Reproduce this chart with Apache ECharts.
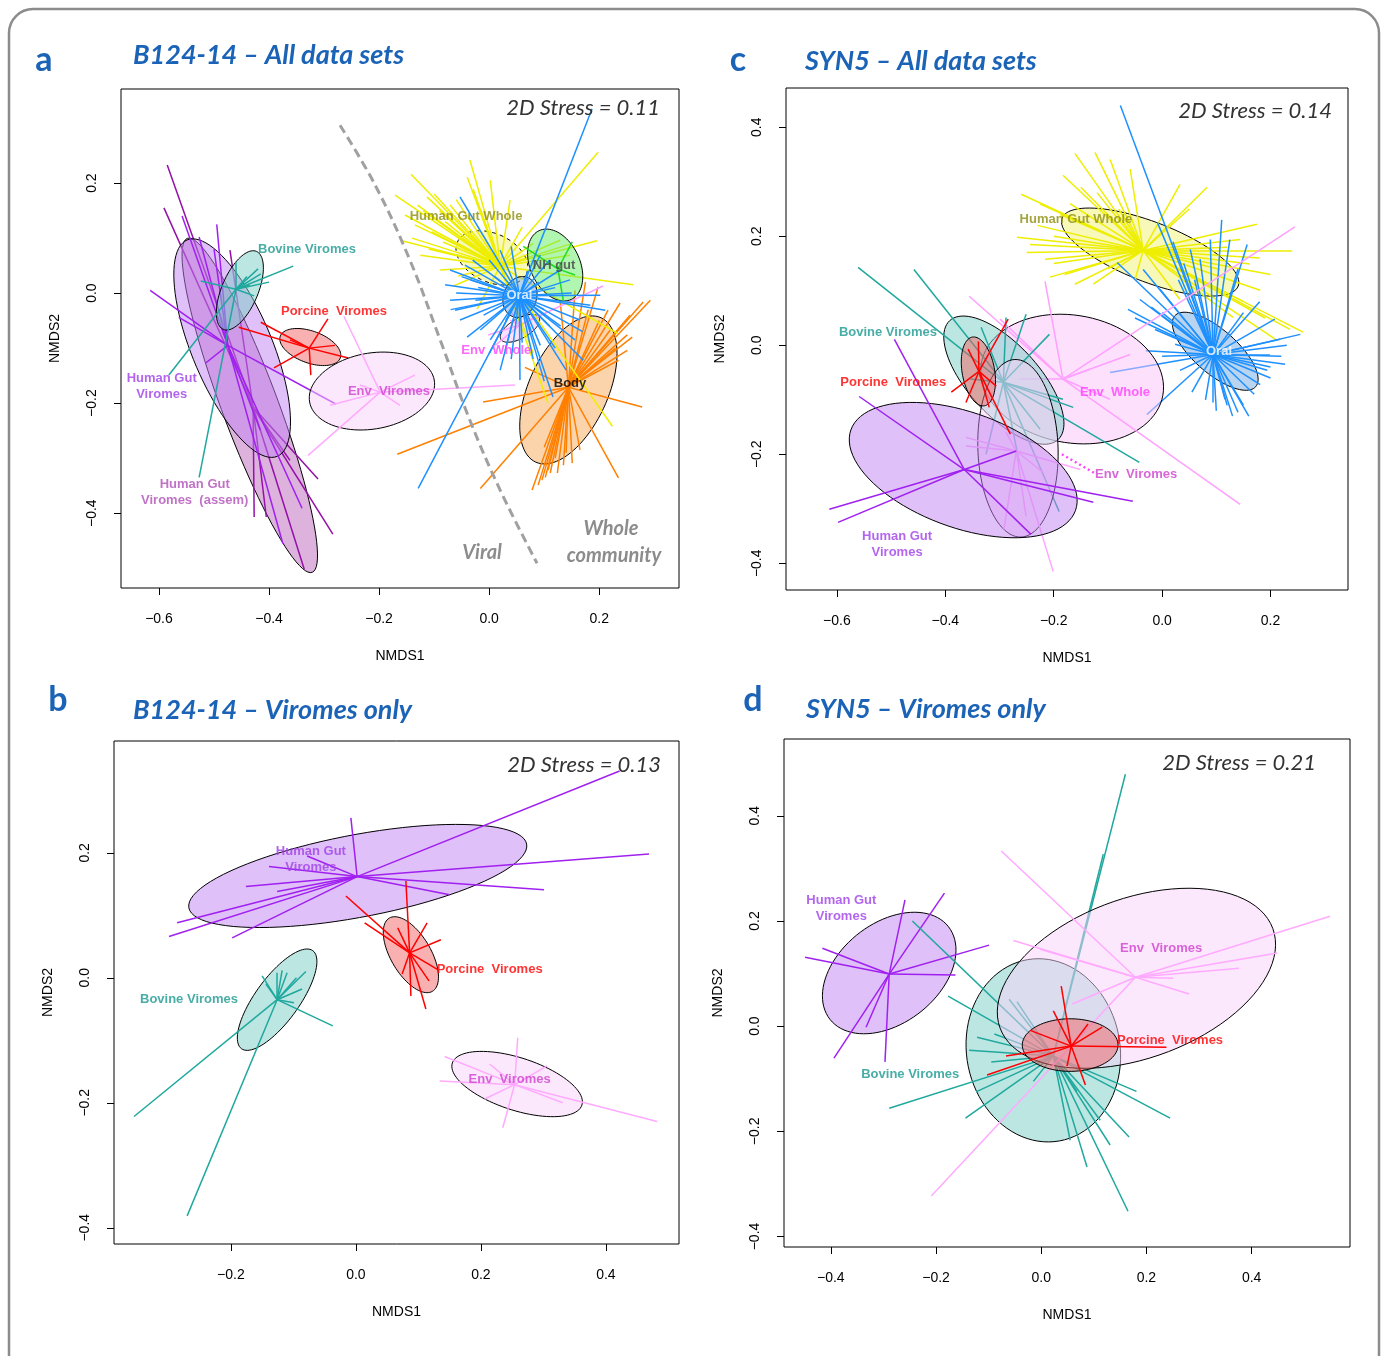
<!DOCTYPE html>
<html>
<head>
<meta charset="utf-8">
<title>NMDS ordinations</title>
<script src="https://cdn.jsdelivr.net/npm/echarts@6/dist/echarts.min.js"></script>
<style>
  html, body { margin: 0; padding: 0; background: #fff; }
  #chart { width: 1385px; height: 1356px; }
</style>
</head>
<body>
<div id="chart"></div>
<script>
// ---------- panel a : B124-14, all data sets ----------
const aTicksX = [-0.6, -0.4, -0.2, 0, 0.2]
const aTicksY = [-0.4, -0.2, 0, 0.2]
const aRangeX = [-0.669, 0.345]
const aRangeY = [-0.536, 0.371]

const aHgvCentre = [-0.475, -0.095]
const aHgvEnds = [[-0.616, 0.005], [-0.558, 0.140], [-0.495, 0.125], [-0.500, 0.080], [-0.527, 0.102], [-0.564, -0.044], [-0.515, -0.127], [-0.278, -0.202], [-0.340, -0.391], [-0.375, -0.455], [-0.416, -0.249]]
const aHgvEllipse = [-0.467, -0.100, 0.213, 0.073, -67.4]

const aAssemCentre = [-0.429, -0.207]
const aAssemEnds = [[-0.585, 0.233], [-0.591, 0.155], [-0.311, -0.338], [-0.284, -0.438], [-0.427, -0.407], [-0.405, -0.407], [-0.336, -0.502], [-0.471, 0.078], [-0.362, -0.304]]
const aAssemEllipse = [-0.435, -0.204, 0.324, 0.051, -69.5]

const aBovineCentre = [-0.460, 0.007]
const aBovineEnds = [[-0.356, 0.049], [-0.400, 0.020], [-0.420, 0.044], [-0.460, 0.056], [-0.524, 0.022], [-0.427, -0.005], [-0.415, 0.035], [-0.582, -0.149], [-0.527, -0.335], [-0.440, 0.030], [-0.435, 0.015]]
const aBovineEllipse = [-0.453, 0.005, 0.077, 0.033, 67]

const aPorcineCentre = [-0.327, -0.100]
const aPorcineEnds = [[-0.455, -0.062], [-0.415, -0.053], [-0.293, -0.047], [-0.256, -0.118], [-0.391, -0.136], [-0.324, -0.149], [-0.280, -0.095], [-0.362, -0.085]]
const aPorcineEllipse = [-0.325, -0.098, 0.058, 0.029, -20]

const aEnvVirCentre = [-0.198, -0.180]
const aEnvVirEnds = [[-0.264, -0.042], [-0.329, -0.295], [0.047, -0.167], [-0.289, -0.204], [-0.235, -0.167], [-0.135, -0.149], [-0.162, -0.204]]
const aEnvVirEllipse = [-0.213, -0.178, 0.115, 0.069, 10]

const aHgwCentre = [0.020, 0.049]
const aHgwEnds = [[-0.142, 0.216], [-0.171, 0.178], [-0.040, 0.211], [-0.113, 0.175], [-0.029, 0.189], [-0.016, 0.153], [-0.104, 0.111], [-0.084, 0.093], [-0.056, 0.031], [-0.065, 0.013], [-0.022, -0.029], [0.198, 0.256], [0.196, 0.095], [0.262, 0.015], [0.233, -0.073], [0.224, -0.242], [0.107, -0.200], [0.080, -0.109], [-0.153, 0.142], [-0.125, 0.069], [-0.089, 0.042], [-0.035, 0.242], [0.038, 0.169], [0.129, 0.096], [0.147, 0.069], [0.056, -0.031], [-0.162, 0.096], [-0.135, 0.124], [-0.071, 0.160], [0.002, 0.205], [-0.120, 0.150], [-0.100, 0.180], [-0.080, 0.130], [-0.060, 0.170], [-0.140, 0.100], [-0.110, 0.080], [-0.050, 0.100], [-0.020, 0.120], [0.060, 0.120], [0.080, 0.090], [0.150, 0.090], [-0.130, 0.160], [-0.090, 0.150]]
const aHgwEllipse = [0.005, 0.064, 0.069, 0.044, -25]

const aNhCentre = [0.125, 0.044]
const aNhEnds = [[0.062, 0.085], [0.151, 0.093], [0.135, -0.015], [0.107, 0.056], [0.156, 0.033]]
const aNhEllipse = [0.120, 0.051, 0.069, 0.045, -65]

const aOralCentre = [0.055, -0.005]
const aOralEnds = [[0.187, 0.335], [-0.129, -0.355], [-0.053, 0.175], [-0.071, 0.042], [-0.080, 0.015], [-0.071, -0.013], [-0.062, -0.031], [-0.053, -0.049], [0.211, -0.031], [0.165, -0.049], [0.156, -0.085], [0.093, -0.095], [0.171, -0.122], [0.116, -0.189], [0.056, -0.158], [-0.016, -0.067], [0.020, 0.078], [0.093, 0.069], [0.129, 0.042], [0.147, 0.024], [0.202, -0.004], [0.184, -0.022], [-0.035, 0.024], [-0.044, 0.051], [0.002, -0.085], [0.075, -0.067], [0.029, -0.104], [-0.025, -0.013], [0.010, 0.030], [0.090, 0.020], [0.100, -0.030], [0.030, -0.050], [-0.020, 0.010], [0.070, 0.040], [-0.060, 0.000], [-0.050, 0.030], [-0.030, 0.060], [0.000, 0.060], [0.040, 0.085], [0.110, 0.060], [0.150, 0.000], [0.130, -0.060], [0.080, -0.120], [0.040, -0.120], [0.000, -0.110], [-0.040, -0.080], [0.120, -0.100], [0.060, -0.090], [-0.070, -0.030], [0.170, -0.070], [0.140, -0.140], [0.100, -0.160], [0.020, -0.140], [-0.010, -0.040], [0.120, 0.010], [0.110, -0.060]]
const aOralEllipse = [0.056, -0.007, 0.038, 0.030, 70]

const aEnvWholeCentre = [0.056, -0.058]
const aEnvWholeEnds = [[-0.002, -0.076], [0.038, -0.031], [0.207, 0.013], [0.011, -0.095], [0.038, -0.049], [0.090, -0.040]]
const aEnvWholeEllipse = [0.056, -0.064, 0.040, 0.018, 30]

const aBodyCentre = [0.144, -0.171]
const aBodyEnds = [[0.238, -0.018], [0.280, -0.016], [0.251, -0.076], [0.251, -0.104], [0.235, -0.122], [0.198, 0.011], [0.293, -0.013], [0.175, 0.020], [0.096, -0.340], [0.102, -0.335], [0.111, -0.327], [0.124, -0.327], [0.135, -0.313], [0.151, -0.309], [0.078, -0.358], [-0.016, -0.355], [0.235, -0.336], [0.278, -0.207], [-0.167, -0.293], [-0.011, -0.198], [0.065, -0.135], [0.129, -0.013], [0.156, 0.005], [0.216, -0.031], [0.107, -0.322], [0.089, -0.349], [0.165, -0.285], [0.220, -0.067], [0.256, -0.040], [0.180, -0.030], [0.200, -0.050], [0.120, -0.300], [0.140, -0.290], [0.100, -0.280], [0.230, -0.100], [0.260, -0.080]]
const aBodyEllipse = [0.144, -0.176, 0.144, 0.072, 65.7]

// viral / whole community divide
const aDivider = [[-0.271, 0.305], [-0.207, 0.196], [-0.144, 0.060], [-0.089, -0.085], [-0.035, -0.231], [0.020, -0.358], [0.087, -0.491]]

const aLabels = [
  ['Human Gut Whole', -0.042, 0.140, 'hgw'],
  ['Bovine Viromes', -0.331, 0.080, 'bovine'],
  ['Porcine  Viromes', -0.282, -0.033, 'porcine'],
  ['Human Gut\nViromes', -0.595, -0.169, 'hgv'],
  ['Env  Viromes', -0.182, -0.178, 'envVir'],
  ['Human Gut\nViromes  (assem)', -0.535, -0.362, 'assem'],
  ['NH gut', 0.118, 0.051, 'nh'],
  ['Oral', 0.055, -0.005, 'oral'],
  ['Env  Whole', 0.013, -0.105, 'envWhole'],
  ['Body', 0.147, -0.164, 'body']
]

// ---------- panel b : B124-14, viromes only ----------
const bTicksX = [-0.2, 0, 0.2, 0.4]
const bTicksY = [-0.4, -0.2, 0, 0.2]
const bRangeX = [-0.387, 0.517]
const bRangeY = [-0.426, 0.379]

const bHgvCentre = [0.002, 0.162]
const bHgvEnds = [[-0.008, 0.256], [-0.139, 0.178], [-0.176, 0.146], [-0.126, 0.138], [-0.286, 0.088], [-0.299, 0.066], [-0.198, 0.064], [-0.078, 0.195], [0.422, 0.331], [0.469, 0.198], [0.301, 0.141], [0.150, 0.133]]
const bHgvEllipse = [0.003, 0.163, 0.275, 0.066, 10.7]

const bPorcineCentre = [0.086, 0.040]
const bPorcineEnds = [[0.080, 0.155], [0.114, 0.088], [0.136, 0.061], [0.131, 0.013], [0.117, -0.005], [0.112, -0.050], [0.088, -0.029], [0.074, 0.006], [0.067, 0.080], [-0.016, 0.131], [0.014, 0.088]]
const bPorcineEllipse = [0.088, 0.037, 0.068, 0.032, -59.5]

const bBovineCentre = [-0.126, -0.035]
const bBovineEnds = [[-0.355, -0.222], [-0.270, -0.381], [-0.037, -0.077], [-0.080, 0.010], [-0.150, 0.003], [-0.126, 0.008], [-0.110, 0.008], [-0.086, -0.018], [-0.099, -0.040], [-0.144, -0.010], [-0.095, 0.000], [-0.118, 0.012]]
const bBovineEllipse = [-0.126, -0.035, 0.097, 0.035, 54]

const bEnvVirCentre = [0.254, -0.171]
const bEnvVirEnds = [[0.259, -0.096], [0.142, -0.126], [0.134, -0.165], [0.235, -0.240], [0.331, -0.200], [0.482, -0.230], [0.306, -0.141], [0.214, -0.138], [0.206, -0.194]]
const bEnvVirEllipse = [0.258, -0.170, 0.109, 0.042, -18]

const bLabels = [
  ['Human Gut\nViromes', -0.072, 0.189, 'hgv'],
  ['Porcine  Viromes', 0.214, 0.014, 'porcine'],
  ['Bovine Viromes', -0.267, -0.034, 'bovine'],
  ['Env  Viromes', 0.246, -0.163, 'envVir']
]

// ---------- panel c : SYN5, all data sets ----------
const cTicksX = [-0.6, -0.4, -0.2, 0, 0.2]
const cTicksY = [-0.4, -0.2, 0, 0.2, 0.4]
const cRangeX = [-0.694, 0.343]
const cRangeY = [-0.449, 0.472]

const cHgwCentre = [-0.035, 0.174]
const cHgwEnds = [[-0.260, 0.277], [-0.268, 0.198], [-0.207, 0.125], [-0.161, 0.112], [-0.127, 0.112], [-0.183, 0.312], [-0.161, 0.352], [-0.124, 0.354], [0.083, 0.290], [0.175, 0.222], [0.240, 0.174], [0.181, 0.101], [0.260, 0.024], [0.212, 0.009], [0.131, 0.051], [-0.225, 0.259], [-0.188, 0.240], [-0.244, 0.185], [-0.216, 0.158], [-0.096, 0.341], [-0.059, 0.323], [0.033, 0.295], [0.144, 0.194], [0.162, 0.149], [0.107, 0.139], [0.033, 0.084], [0.236, 0.029], [-0.230, 0.220], [-0.250, 0.170], [-0.200, 0.200], [-0.170, 0.260], [-0.150, 0.290], [-0.120, 0.280], [-0.080, 0.250], [-0.200, 0.150], [-0.180, 0.130], [0.050, 0.250], [0.120, 0.180], [0.180, 0.160], [0.200, 0.130], [0.190, 0.050], [0.150, 0.080], [-0.100, 0.140], [-0.050, 0.120]]
const cHgwEllipse = [-0.022, 0.171, 0.174, 0.055, -21]

const cOralCentre = [0.094, -0.017]
const cOralEnds = [[-0.077, 0.440], [-0.035, 0.139], [-0.083, 0.152], [-0.009, 0.226], [0.052, 0.176], [-0.063, 0.066], [-0.096, -0.050], [0.125, 0.194], [0.157, 0.185], [0.255, 0.020], [0.194, -0.046], [0.140, -0.123], [0.094, -0.105], [0.055, -0.086], [0.033, -0.046], [-0.028, -0.127], [0.218, 0.011], [-0.041, 0.084], [-0.004, 0.103], [0.070, 0.158], [0.199, -0.017], [0.181, -0.072], [0.116, -0.099], [0.024, 0.002], [-0.013, 0.029], [0.089, 0.194], [0.208, 0.048], [0.227, -0.035], [0.120, -0.110], [0.130, -0.130], [0.150, -0.110], [0.170, -0.090], [0.200, -0.060], [0.220, -0.020], [0.230, 0.000], [0.100, -0.120], [0.080, -0.100], [0.160, -0.130], [0.060, 0.120], [0.030, 0.120], [0.000, 0.060], [-0.020, 0.070], [-0.050, 0.050], [0.040, 0.150], [0.020, 0.190], [0.110, 0.230], [0.140, 0.140], [0.180, 0.080], [0.000, -0.020], [-0.030, -0.010], [0.200, -0.040], [0.150, 0.060]]
const cOralEllipse = [0.098, -0.011, 0.099, 0.040, -41]

const cEnvWholeCentre = [-0.183, -0.062]
const cEnvWholeEnds = [[-0.356, 0.090], [-0.216, 0.117], [0.245, 0.217], [0.144, -0.292], [-0.059, -0.017], [-0.262, -0.062], [-0.133, -0.044], [-0.096, -0.099], [-0.299, 0.048]]
const cEnvWholeEllipse = [-0.166, -0.062, 0.170, 0.117, -10]

const cBovineCentre = [-0.293, -0.068]
const cBovineEnds = [[-0.561, 0.143], [-0.458, 0.139], [-0.251, 0.057], [-0.288, 0.051], [-0.042, -0.215], [-0.190, -0.305], [-0.164, -0.114], [-0.325, -0.200], [-0.208, 0.020], [-0.334, 0.033], [-0.264, -0.213], [-0.183, -0.099], [-0.354, -0.062], [-0.225, -0.154]]
const cBovineEllipse = [-0.292, -0.064, 0.148, 0.065, -47.5]

const cPorcineCentre = [-0.338, -0.048]
const cPorcineEnds = [[-0.284, 0.048], [-0.389, -0.086], [-0.280, -0.163], [-0.362, -0.105], [-0.319, -0.114], [-0.339, 0.007], [-0.358, -0.007], [-0.306, -0.075]]
const cPorcineEllipse = [-0.339, -0.048, 0.064, 0.030, 100]

const cEnvVirCentre = [-0.269, -0.194]
const cEnvVirEnds = [[-0.201, -0.415], [-0.362, -0.169], [-0.362, -0.185], [-0.292, -0.338], [-0.220, -0.233], [-0.251, -0.314], [-0.288, -0.160], [-0.151, -0.228]]
const cEnvVirEllipse = [-0.266, -0.189, 0.163, 0.074, 92]

const cHgvCentre = [-0.365, -0.228]
const cHgvEnds = [[-0.614, -0.301], [-0.598, -0.325], [-0.494, 0.011], [-0.559, -0.094], [-0.242, -0.347], [-0.054, -0.286], [-0.127, -0.288], [-0.269, -0.194]]
const cHgvEllipse = [-0.367, -0.229, 0.220, 0.106, -19.6]

const cEnvVirLeader = [[-0.185, -0.200], [-0.124, -0.235]]

const cLabels = [
  ['Human Gut Whole', -0.159, 0.231, 'hgw'],
  ['Oral', 0.105, -0.011, 'oral'],
  ['Bovine Viromes', -0.506, 0.024, 'bovine'],
  ['Porcine  Viromes', -0.496, -0.068, 'porcine'],
  ['Env  Whole', -0.087, -0.086, 'envWhole'],
  ['Env  Viromes', -0.048, -0.237, 'envVir'],
  ['Human Gut\nViromes', -0.489, -0.365, 'hgv']
]

// ---------- panel d : SYN5, viromes only ----------
const dTicksX = [-0.4, -0.2, 0, 0.2, 0.4]
const dTicksY = [-0.4, -0.2, 0, 0.2, 0.4]
const dRangeX = [-0.489, 0.587]
const dRangeY = [-0.420, 0.546]

const dHgvCentre = [-0.289, 0.099]
const dHgvEnds = [[-0.259, 0.240], [-0.184, 0.253], [-0.099, 0.154], [-0.163, 0.097], [-0.449, 0.131], [-0.416, 0.148], [-0.394, -0.061], [-0.333, -0.002], [-0.297, -0.068]]
const dHgvEllipse = [-0.289, 0.101, 0.143, 0.095, 38]

const dBovineCentre = [0.023, -0.057]
const dBovineEnds = [[0.160, 0.479], [0.118, 0.327], [-0.245, 0.200], [-0.177, 0.057], [-0.289, -0.156], [-0.144, -0.175], [-0.124, -0.125], [-0.122, -0.021], [-0.137, -0.046], [-0.089, -0.015], [-0.095, -0.068], [-0.061, 0.051], [-0.046, 0.046], [-0.015, -0.105], [0.087, -0.268], [0.165, -0.352], [0.131, -0.226], [0.167, -0.211], [0.245, -0.175], [0.181, -0.124], [0.068, -0.124], [0.055, -0.217], [0.112, -0.179]]
const dBovineEllipse = [0.004, -0.046, 0.175, 0.146, -80]

const dEnvVirCentre = [0.179, 0.093]
const dEnvVirEnds = [[-0.076, 0.333], [-0.053, 0.163], [-0.209, -0.323], [0.549, 0.209], [0.449, 0.139], [0.376, 0.110], [0.281, 0.061], [0.059, 0.042], [0.251, 0.091], [-0.002, 0.146]]
const dEnvVirEllipse = [0.181, 0.091, 0.276, 0.152, 20]

const dPorcineCentre = [0.057, -0.038]
const dPorcineEnds = [[0.038, 0.076], [0.023, 0.029], [0.116, -0.002], [0.089, 0.004], [0.238, -0.040], [0.084, -0.112], [0.049, -0.076], [-0.103, -0.093], [-0.067, -0.057], [-0.021, -0.008]]
const dPorcineEllipse = [0.055, -0.036, 0.091, 0.050, 0]

const dLabels = [
  ['Human Gut\nViromes', -0.380, 0.224, 'hgv'],
  ['Bovine Viromes', -0.249, -0.091, 'bovine'],
  ['Env  Viromes', 0.228, 0.148, 'envVir'],
  ['Porcine  Viromes', 0.245, -0.027, 'porcine']
]

// ---------- styling ----------
const COLORS = {
  hgv: { line: '#a020f0', fill: 'rgba(193,129,241,0.5)', text: '#a040e8' },
  assem: { line: '#9410a8', fill: 'rgba(187,103,187,0.5)', text: '#b050b8' },
  bovine: { line: '#20a89e', fill: 'rgba(121,205,197,0.5)', text: '#1a9990' },
  porcine: { line: '#ff0000', fill: 'rgba(241,97,97,0.5)', text: '#ff0000' },
  envVir: { line: '#ffaaff', fill: 'rgba(249,209,249,0.5)', text: '#d040d0' },
  envWhole: { line: '#ffa0ff', fill: 'rgba(249,193,249,0.5)', text: '#ff40ff' },
  hgw: { line: '#eeee00', fill: 'rgba(241,241,113,0.5)', text: '#8f8f10' },
  nh: { line: '#22dd22', fill: 'rgba(97,235,97,0.5)', text: '#444444' },
  oral: { line: '#1e90ff', fill: 'rgba(113,169,225,0.5)', text: '#ffffff' },
  body: { line: '#ff8000', fill: 'rgba(249,169,89,0.5)', text: '#000000' }
}

// draw order inside every panel: [key, centre, ends, ellipse, dashed outline]
const panelGroups = [
  [ // a
    ['assem', aAssemCentre, aAssemEnds, aAssemEllipse],
    ['hgv', aHgvCentre, aHgvEnds, aHgvEllipse],
    ['bovine', aBovineCentre, aBovineEnds, aBovineEllipse],
    ['porcine', aPorcineCentre, aPorcineEnds, aPorcineEllipse],
    ['envVir', aEnvVirCentre, aEnvVirEnds, aEnvVirEllipse],
    ['body', aBodyCentre, aBodyEnds, aBodyEllipse],
    ['envWhole', aEnvWholeCentre, aEnvWholeEnds, aEnvWholeEllipse],
    ['hgw', aHgwCentre, aHgwEnds, aHgwEllipse, true],
    ['nh', aNhCentre, aNhEnds, aNhEllipse],
    ['oral', aOralCentre, aOralEnds, aOralEllipse]
  ],
  [ // b
    ['hgv', bHgvCentre, bHgvEnds, bHgvEllipse],
    ['porcine', bPorcineCentre, bPorcineEnds, bPorcineEllipse],
    ['bovine', bBovineCentre, bBovineEnds, bBovineEllipse],
    ['envVir', bEnvVirCentre, bEnvVirEnds, bEnvVirEllipse]
  ],
  [ // c
    ['hgw', cHgwCentre, cHgwEnds, cHgwEllipse],
    ['oral', cOralCentre, cOralEnds, cOralEllipse],
    ['envWhole', cEnvWholeCentre, cEnvWholeEnds, cEnvWholeEllipse],
    ['bovine', cBovineCentre, cBovineEnds, cBovineEllipse],
    ['envVir', cEnvVirCentre, cEnvVirEnds, cEnvVirEllipse],
    ['hgv', cHgvCentre, cHgvEnds, cHgvEllipse],
    ['porcine', cPorcineCentre, cPorcineEnds, cPorcineEllipse]
  ],
  [ // d
    ['hgv', dHgvCentre, dHgvEnds, dHgvEllipse],
    ['bovine', dBovineCentre, dBovineEnds, dBovineEllipse],
    ['envVir', dEnvVirCentre, dEnvVirEnds, dEnvVirEllipse],
    ['porcine', dPorcineCentre, dPorcineEnds, dPorcineEllipse]
  ]
]
const panelLabels = [aLabels, bLabels, cLabels, dLabels]
const panelRanges = [[aRangeX, aRangeY], [bRangeX, bRangeY], [cRangeX, cRangeY], [dRangeX, dRangeY]]
const panelTicks = [[aTicksX, aTicksY], [bTicksX, bTicksY], [cTicksX, cTicksY], [dTicksX, dTicksY]]

const grids = [
  { left: 121, top: 89, width: 558, height: 499 },
  { left: 114, top: 741, width: 565, height: 503 },
  { left: 786, top: 88, width: 562, height: 502 },
  { left: 784, top: 739, width: 566, height: 508 }
]

const tickFormat = v => v.toFixed(1).replace('-', '\u2212')
const axisFont = { fontFamily: 'Liberation Sans', fontSize: 14, color: '#000' }

function xAxisFor(i) {
  const ticks = panelTicks[i][0]
  return {
    gridIndex: i, type: 'value', min: panelRanges[i][0][0], max: panelRanges[i][0][1],
    name: 'NMDS1', nameLocation: 'middle', nameGap: 61, nameTextStyle: axisFont,
    axisLine: { show: false, onZero: false },
    axisTick: { show: true, length: 7, customValues: ticks, lineStyle: { color: '#000' } },
    axisLabel: { customValues: ticks, margin: 24, formatter: tickFormat, ...axisFont },
    splitLine: { show: false }
  }
}

function yAxisFor(i) {
  const ticks = panelTicks[i][1]
  return {
    gridIndex: i, type: 'value', min: panelRanges[i][1][0], max: panelRanges[i][1][1],
    name: 'NMDS2', nameLocation: 'middle', nameGap: 59, nameTextStyle: axisFont,
    axisLine: { show: false, onZero: false },
    axisTick: { show: true, length: 7, customValues: ticks, lineStyle: { color: '#000' } },
    axisLabel: { customValues: ticks, margin: 22, rotate: 90, formatter: tickFormat, ...axisFont },
    splitLine: { show: false }
  }
}

// ellipse outline drawn in data space, mapped through the axes
function ellipseSeries(i, ell, fill, dashed, z) {
  return {
    type: 'custom', xAxisIndex: i, yAxisIndex: i, silent: true, z: z,
    data: [ell],
    renderItem(params, api) {
      const cx = api.value(0), cy = api.value(1), a = api.value(2), b = api.value(3)
      const t = api.value(4) * Math.PI / 180
      const pts = []
      for (let k = 0; k < 90; k++) {
        const u = k / 90 * 2 * Math.PI
        const x = cx + a * Math.cos(u) * Math.cos(t) - b * Math.sin(u) * Math.sin(t)
        const y = cy + a * Math.cos(u) * Math.sin(t) + b * Math.sin(u) * Math.cos(t)
        pts.push(api.coord([x, y]))
      }
      return {
        type: 'polygon', shape: { points: pts },
        style: { fill: fill, stroke: '#000', lineWidth: 1, lineDash: dashed ? [4, 4] : null }
      }
    }
  }
}

function spiderSeries(i, centre, ends, color, z) {
  return {
    type: 'lines', coordinateSystem: 'cartesian2d', xAxisIndex: i, yAxisIndex: i,
    silent: true, z: z,
    data: ends.map(p => ({ coords: [centre, p] })),
    lineStyle: { color: color, width: 1.5, opacity: 1, curveness: 0 }
  }
}

function labelSeries(i, labels) {
  return {
    type: 'scatter', xAxisIndex: i, yAxisIndex: i, silent: true, z: 200,
    symbolSize: 1, itemStyle: { color: 'rgba(0,0,0,0)' },
    label: {
      show: true, position: 'inside', fontFamily: 'Liberation Sans',
      fontWeight: 'bold', fontSize: 13, lineHeight: 16
    },
    data: labels.map(l => ({
      value: [l[1], l[2]],
      label: { formatter: l[0], color: COLORS[l[3]].text }
    }))
  }
}

const series = []
let zOrder = 2
panelGroups.forEach((groups, i) => {
  groups.forEach(g => {
    const c = COLORS[g[0]]
    series.push(ellipseSeries(i, g[3], c.fill, g[4], zOrder++))
    series.push(spiderSeries(i, g[1], g[2], c.line, zOrder++))
  })
  series.push(labelSeries(i, panelLabels[i]))
})

// dashed divide in panel a, dotted leader in panel c
series.push({
  type: 'line', xAxisIndex: 0, yAxisIndex: 0, data: aDivider, smooth: 0.4,
  symbol: 'none', silent: true, z: 150,
  lineStyle: { color: '#a0a0a0', width: 3, type: [9, 5] }
})
series.push({
  type: 'line', xAxisIndex: 2, yAxisIndex: 2, data: cEnvVirLeader,
  symbol: 'none', silent: true, z: 150,
  lineStyle: { color: '#ff44ff', width: 2.5, type: [2, 3] }
})

const blue = '#1b63b6'
const headings = [
  ['a', 44, 60, 'B124-14 \u2013 All data sets', 133, 55, '2D Stress = 0.11', 660, 108],
  ['b', 58, 700, 'B124-14 \u2013 Viromes only', 133, 710, '2D Stress = 0.13', 661, 765],
  ['c', 738, 60, 'SYN5 \u2013 All data sets', 805, 61, '2D Stress = 0.14', 1332, 111],
  ['d', 753, 700, 'SYN5 \u2013 Viromes only', 806, 709, '2D Stress = 0.21', 1316, 763]
]

const graphic = [{
  type: 'rect', silent: true,
  shape: { x: 9, y: 9, width: 1370, height: 1390, r: 24 },
  style: { fill: 'none', stroke: '#8c8c8c', lineWidth: 2.5 }
}]
headings.forEach(h => {
  graphic.push({ type: 'text', x: h[1], y: h[2], silent: true,
    style: { text: h[0], fill: blue, fontFamily: 'Lato', fontWeight: 'bold', fontSize: 34, align: 'center', verticalAlign: 'middle' } })
  graphic.push({ type: 'text', x: h[4], y: h[5], silent: true,
    style: { text: h[3], fill: blue, fontFamily: 'Lato', fontWeight: 'bold', fontStyle: 'italic', fontSize: 27, align: 'left', verticalAlign: 'middle' } })
  graphic.push({ type: 'text', x: h[7], y: h[8], silent: true, z: 300,
    style: { text: h[6], fill: '#333', fontFamily: 'Lato', fontStyle: 'italic', fontSize: 22, align: 'right', verticalAlign: 'middle' } })
})
const grayNote = { fill: '#8c8c8c', fontFamily: 'Lato', fontWeight: 'bold', fontStyle: 'italic', fontSize: 20, align: 'center', verticalAlign: 'middle' }
graphic.push({ type: 'text', x: 482, y: 553, silent: true, style: { ...grayNote, text: 'Viral' } })
graphic.push({ type: 'text', x: 611, y: 529, silent: true, style: { ...grayNote, text: 'Whole' } })
graphic.push({ type: 'text', x: 614, y: 556, silent: true, style: { ...grayNote, text: 'community' } })

const chart = echarts.init(document.getElementById('chart'))
chart.setOption({
  animation: false,
  backgroundColor: '#fff',
  grid: grids.map(g => ({ ...g, show: true, borderColor: '#000', borderWidth: 1, backgroundColor: 'transparent' })),
  xAxis: grids.map((g, i) => xAxisFor(i)),
  yAxis: grids.map((g, i) => yAxisFor(i)),
  series: series,
  graphic: graphic
})
</script>
</body>
</html>
